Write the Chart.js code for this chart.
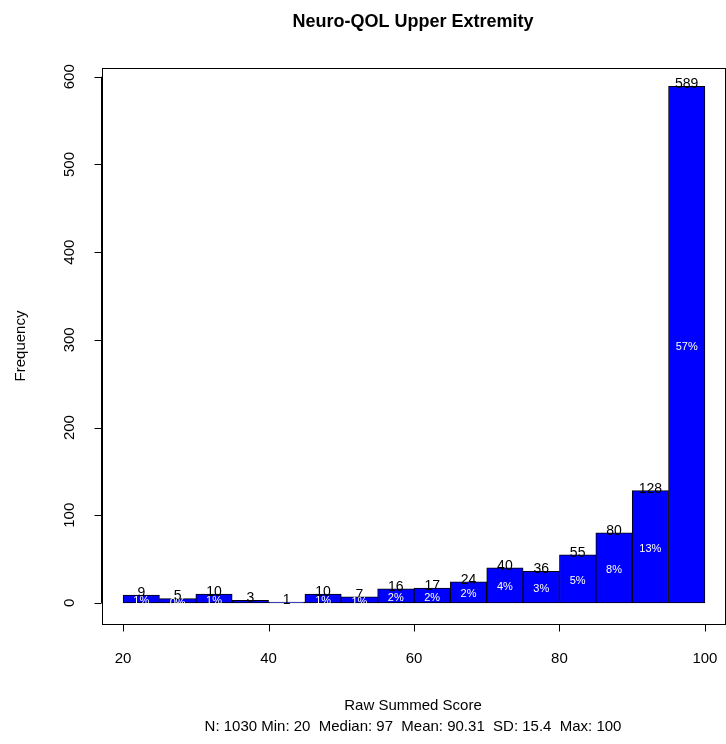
<!DOCTYPE html>
<html>
<head>
<meta charset="utf-8">
<script src="https://cdn.jsdelivr.net/npm/chart.js@4/dist/chart.umd.min.js"></script>
<style>
  html, body { margin:0; padding:0; background:#fff; }
  #wrap { width:726px; height:744px; }
</style>
</head>
<body>
<div id="wrap"><canvas id="c" width="726" height="744"></canvas></div>
<script>
(function() {
    'use strict';

    // bin midpoints (bins of width 5 from 20 to 100)
    const binMids = [22.5, 27.5, 32.5, 37.5, 42.5, 47.5, 52.5, 57.5, 62.5, 67.5, 72.5, 77.5, 82.5, 87.5, 92.5, 97.5];
    const counts = [9, 5, 10, 3, 1, 10, 7, 16, 17, 24, 40, 36, 55, 80, 128, 589];
    const pctLabels = ['1%', '0%', '1%', '', '', '1%', '1%', '2%', '2%', '2%', '4%', '3%', '5%', '8%', '13%', '57%'];
    const xTicks = [20, 40, 60, 80, 100];
    const yTicks = [0, 100, 200, 300, 400, 500, 600];

    const FONT = 'Liberation Sans, Arial, sans-serif';

    const decor = {
        id: 'decor',
        afterDatasetsDraw(chart) {
            const ctx = chart.ctx, a = chart.chartArea;
            const xs = chart.scales.x, ys = chart.scales.y;
            ctx.save();
            // plot box
            ctx.strokeStyle = '#000'; ctx.lineWidth = 1;
            ctx.strokeRect(a.left + 0.5, a.top + 0.5, a.right - a.left - 1, a.bottom - a.top);

            // bar labels
            const meta = chart.getDatasetMeta(0);
            ctx.textAlign = 'center';
            meta.data.forEach((bar, i) => {
                ctx.fillStyle = '#000';
                ctx.font = '14px ' + FONT;
                ctx.textBaseline = 'middle';
                ctx.fillText(String(counts[i]), bar.x, bar.y - 2);
                if (pctLabels[i]) {
                    ctx.fillStyle = '#fff';
                    ctx.font = '11px ' + FONT;
                    const base = ys.getPixelForValue(0);
                    ctx.fillText(pctLabels[i], bar.x, (bar.y + base) / 2 + 2);
                }
            });

            // x axis (R style, below box)
            ctx.strokeStyle = '#000'; ctx.fillStyle = '#000';
            const axY = 624.5;
            ctx.beginPath();
            ctx.moveTo(xs.getPixelForValue(xTicks[0]), axY);
            ctx.lineTo(xs.getPixelForValue(xTicks[xTicks.length - 1]), axY);
            xTicks.forEach(t => {
                const px = Math.round(xs.getPixelForValue(t)) + 0.5;
                ctx.moveTo(px, axY); ctx.lineTo(px, axY + 7);
            });
            ctx.stroke();
            ctx.font = '15px ' + FONT;
            ctx.textBaseline = 'top';
            xTicks.forEach(t => ctx.fillText(String(t), xs.getPixelForValue(t), 651));

            // y axis (left of box)
            const axX = 101.5;
            ctx.beginPath();
            ctx.moveTo(axX, ys.getPixelForValue(yTicks[0]));
            ctx.lineTo(axX, ys.getPixelForValue(yTicks[yTicks.length - 1]));
            yTicks.forEach(t => {
                const py = Math.round(ys.getPixelForValue(t)) + 0.5;
                ctx.moveTo(axX, py); ctx.lineTo(axX - 7, py);
            });
            ctx.stroke();
            yTicks.forEach(t => {
                ctx.save();
                ctx.translate(70, ys.getPixelForValue(t));
                ctx.rotate(-Math.PI / 2);
                ctx.textBaseline = 'middle';
                ctx.fillText(String(t), 0, 0);
                ctx.restore();
            });

            // axis titles
            ctx.save();
            ctx.translate(21, 346);
            ctx.rotate(-Math.PI / 2);
            ctx.textBaseline = 'middle';
            ctx.fillText('Frequency', 0, 0);
            ctx.restore();
            ctx.textBaseline = 'middle';
            ctx.fillText('Raw Summed Score', 413, 706);
            ctx.fillText('N: 1030 Min: 20  Median: 97  Mean: 90.31  SD: 15.4  Max: 100', 413, 727);
            ctx.font = 'bold 18px ' + FONT;
            ctx.fillText('Neuro-QOL Upper Extremity', 413, 22);
            ctx.restore();
        }
    };

    new Chart(document.getElementById('c'), {
        type: 'bar',
        data: {
            datasets: [{
                data: binMids.map((m, i) => ({ x: m, y: counts[i] })),
                backgroundColor: '#0000ff',
                borderColor: '#000',
                borderWidth: 1,
                borderSkipped: false,
                barPercentage: 1,
                categoryPercentage: 1
            }]
        },
        options: {
            responsive: false, animation: false,
            layout: { padding: { left: 102, right: 0, top: 68, bottom: 120 } },
            plugins: { legend: { display: false }, tooltip: { enabled: false } },
            scales: {
                x: { type: 'linear', display: false, offset: false, min: 17.1, max: 102.9 },
                y: { display: false, min: -24, max: 610 }
            }
        },
        plugins: [decor]
    });
})();
</script>
</body>
</html>
